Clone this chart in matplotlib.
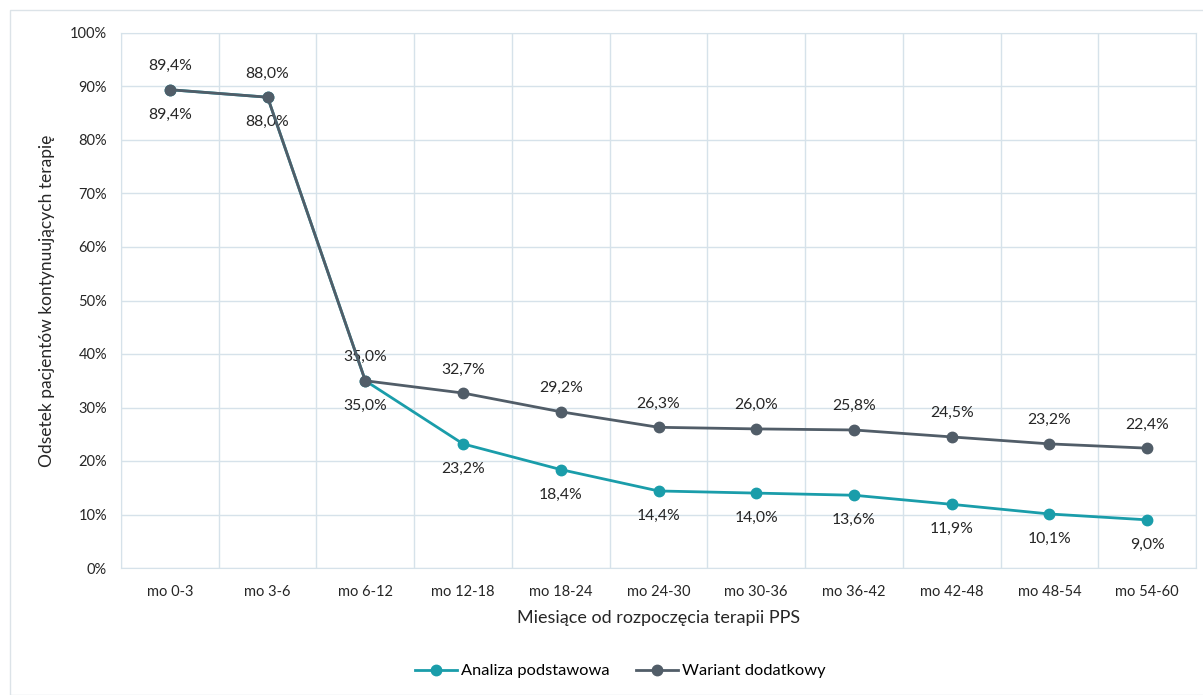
import numpy as np
import matplotlib.pyplot as plt
from matplotlib.patches import Rectangle
from matplotlib.lines import Line2D

plt.rcParams['font.family'] = ['Lato', 'DejaVu Sans']

categories = ['mo 0-3', 'mo 3-6', 'mo 6-12', 'mo 12-18', 'mo 18-24', 'mo 24-30',
              'mo 30-36', 'mo 36-42', 'mo 42-48', 'mo 48-54', 'mo 54-60']
analiza = [89.4, 88.0, 35.0, 23.2, 18.4, 14.4, 14.0, 13.6, 11.9, 10.1, 9.0]
wariant = [89.4, 88.0, 35.0, 32.7, 29.2, 26.3, 26.0, 25.8, 24.5, 23.2, 22.4]

teal = '#1a9daa'
dark = '#515d68'
grid = '#d6e2ea'
txt = '#262626'

fig = plt.figure(figsize=(12.03, 6.95), dpi=100)
fig.patches.append(Rectangle((10 / 1203, 0), 1.0, 1 - 10 / 695, transform=fig.transFigure,
                             fill=False, edgecolor='#dce3e8', lw=1.0))
ax = fig.add_axes([121 / 1203, 1 - 568 / 695, 1075 / 1203, 535 / 695])

x = np.arange(len(categories))
ax.plot(x, analiza, color=teal, lw=2, marker='o', ms=7.5, zorder=3)
ax.plot(x, wariant, color=dark, lw=2, marker='o', ms=7.5, zorder=4)

def pct(v):
    return f'{v:.1f}%'.replace('.', ',')

# gray series labelled above, teal below
for i, (a, w) in enumerate(zip(analiza, wariant)):
    ax.annotate(pct(w), (i, w), xytext=(0, 17), textcoords='offset points',
                ha='center', va='center', fontsize=11.3, color=txt)
    ax.annotate(pct(a), (i, a), xytext=(0, -18), textcoords='offset points',
                ha='center', va='center', fontsize=11.3, color=txt)

ax.set_xlim(-0.5, len(categories) - 0.5)
ax.set_ylim(0, 100)
ax.set_yticks(np.arange(0, 101, 10))
ax.set_yticklabels([f'{v}%' for v in range(0, 101, 10)])
ax.set_xticks(x)
ax.set_xticklabels(categories)
ax.set_xticks(np.arange(-0.5, len(categories), 1), minor=True)
ax.tick_params(which='both', length=0, labelsize=10.5, colors=txt)
ax.tick_params(axis='x', pad=12)
ax.tick_params(axis='y', pad=10)
ax.grid(axis='y', which='major', color=grid, lw=1)
ax.grid(axis='x', which='minor', color=grid, lw=1)
ax.grid(axis='x', which='major', visible=False)
for s in ax.spines.values():
    s.set_color(grid)
ax.set_axisbelow(True)

ax.set_xlabel('Miesiące od rozpoczęcia terapii PPS', fontsize=13, color=txt, labelpad=8)
ax.set_ylabel('Odsetek pacjentów kontynuujących terapię', fontsize=12.5, color=txt, labelpad=11)

handles = [Line2D([], [], color=teal, lw=2, marker='o', ms=7.5),
           Line2D([], [], color=dark, lw=2, marker='o', ms=7.5)]
fig.legend(handles, ['Analiza podstawowa', 'Wariant dodatkowy'], loc='center',
           bbox_to_anchor=(620 / 1203, 1 - 671 / 695), ncol=2, frameon=False,
           fontsize=11.8, handlelength=2.6, columnspacing=1.6, handletextpad=0.2)

fig.savefig('out.png', dpi=100)
